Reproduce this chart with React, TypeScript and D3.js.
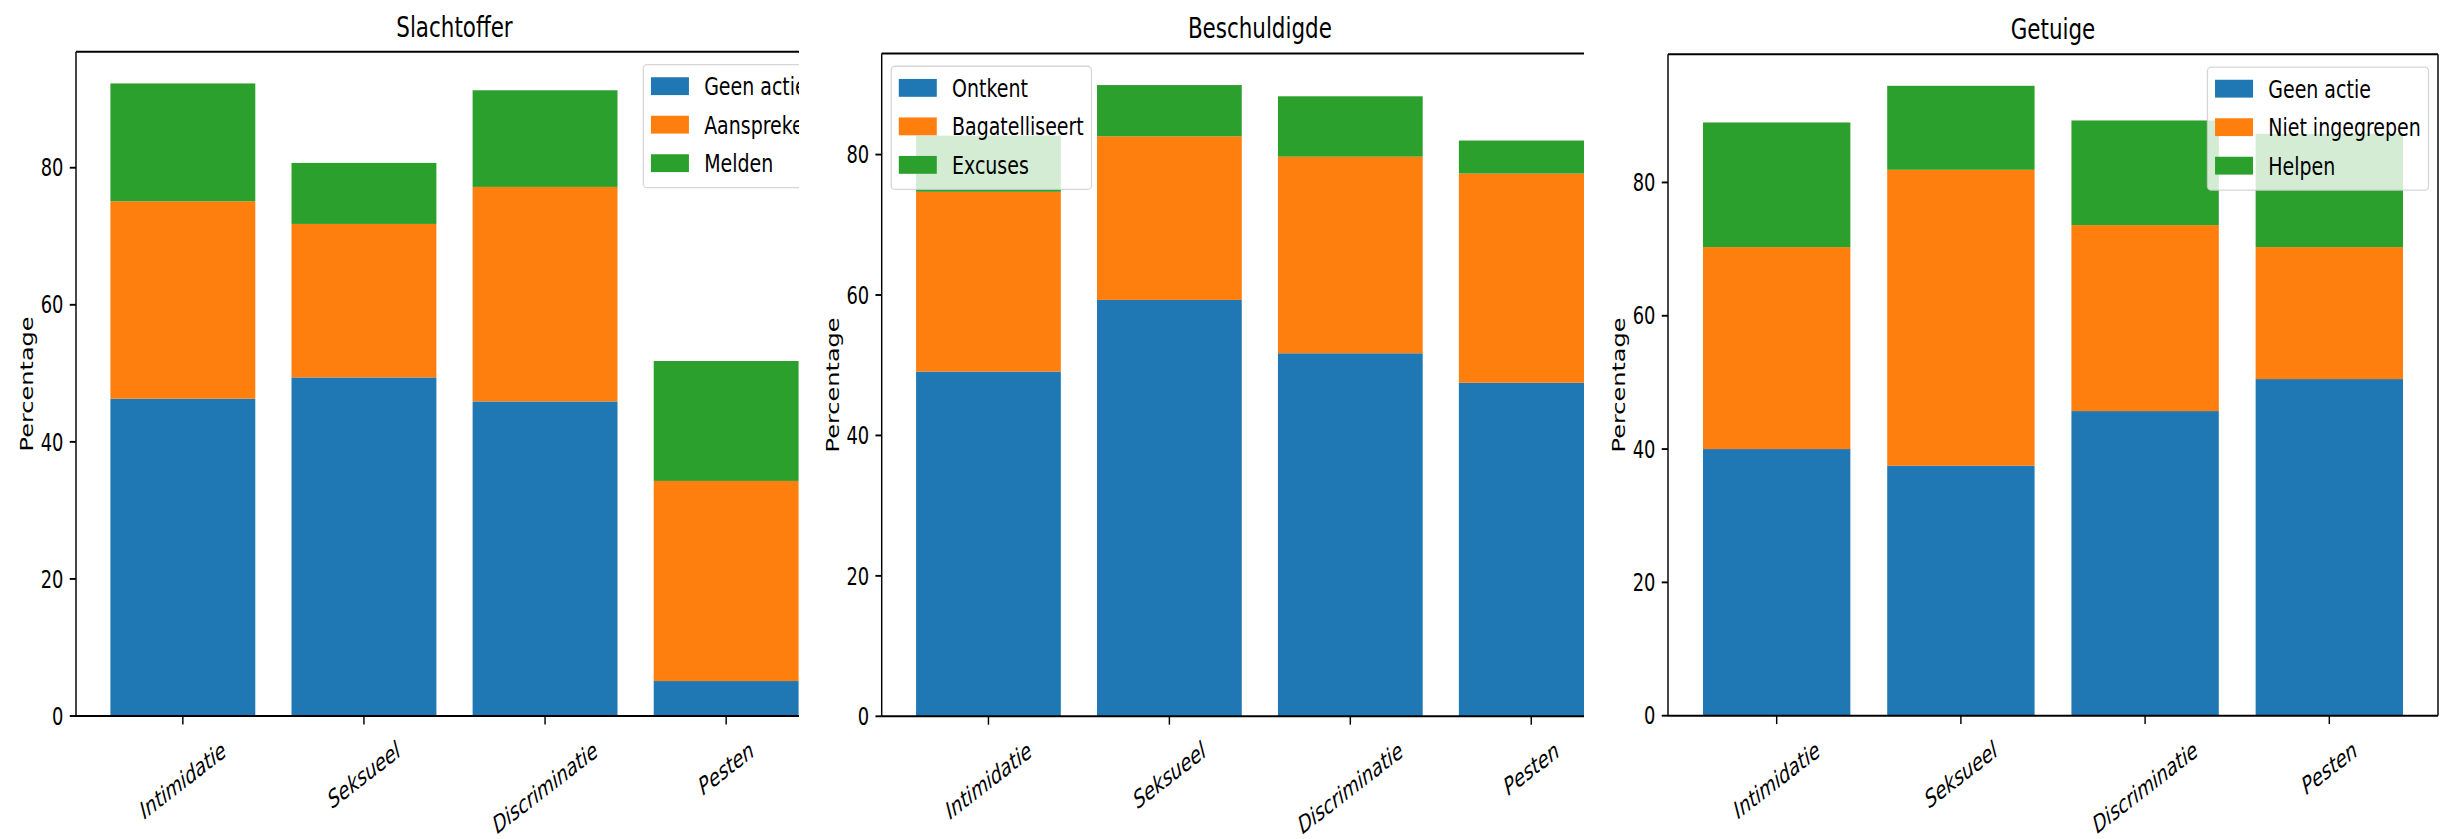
import React, { useEffect, useRef } from "react";
import * as d3 from "d3";

// ---------- data ----------
const categories = ["Intimidatie", "Seksueel", "Discriminatie", "Pesten"];
const seriesColors = ["#1f77b4", "#ff7f0e", "#2ca02c"];
const yTicks = [0, 20, 40, 60, 80];

const slachtofferTitle = "Slachtoffer";
const slachtofferLabels = ["Geen actie", "Aanspreken", "Melden"];
const slachtofferGeenActie = [46.3, 49.4, 45.9, 5.1];
const slachtofferAanspreken = [28.8, 22.4, 31.3, 29.2];
const slachtofferMelden = [17.2, 8.9, 14.1, 17.5];

const beschuldigdeTitle = "Beschuldigde";
const beschuldigdeLabels = ["Ontkent", "Bagatelliseert", "Excuses"];
const beschuldigdeOntkent = [49.1, 59.3, 51.7, 47.5];
const beschuldigdeBagatelliseert = [25.6, 23.3, 28.0, 29.8];
const beschuldigdeExcuses = [8.0, 7.3, 8.6, 4.7];

const getuigeTitle = "Getuige";
const getuigeLabels = ["Geen actie", "Niet ingegrepen", "Helpen"];
const getuigeGeenActie = [40.0, 37.5, 45.7, 50.5];
const getuigeNietIngegrepen = [30.3, 44.4, 27.9, 19.8];
const getuigeHelpen = [18.7, 12.6, 15.7, 17.0];

const yLabel = "Percentage";

// ---------- layout ----------
const W = 2450;
const H = 839;
const S = 0.745; // horizontal squeeze of the picture
const F = 24; // tick / label font
const FL = 25.5; // legend font
const FT = 28.8; // title font
const TICK = 8.4;
const PAD = 8.4;
const ROT = 30;
const FONT = "DejaVu Sans, Verdana, sans-serif";

const panels = [
  {
    title: slachtofferTitle,
    labels: slachtofferLabels,
    series: [slachtofferGeenActie, slachtofferAanspreken, slachtofferMelden],
    left: 76, right: 833, top: 51.8, bottom: 716,
    clipX0: 0, clipX1: 799, legend: "right",
  },
  {
    title: beschuldigdeTitle,
    labels: beschuldigdeLabels,
    series: [beschuldigdeOntkent, beschuldigdeBagatelliseert, beschuldigdeExcuses],
    left: 881.7, right: 1638, top: 53.5, bottom: 716.3,
    clipX0: 800, clipX1: 1584, legend: "left",
  },
  {
    title: getuigeTitle,
    labels: getuigeLabels,
    series: [getuigeGeenActie, getuigeNietIngegrepen, getuigeHelpen],
    left: 1668, right: 2438, top: 54.3, bottom: 715.7,
    clipX0: 1585, clipX1: 2450, legend: "right",
  },
];

export default function App() {
  const ref = useRef<SVGSVGElement | null>(null);

  useEffect(() => {
    document.body.style.margin = "0";
    document.body.style.overflow = "hidden";
    const svg = d3.select(ref.current);
    svg.selectAll("*").remove();
    const defs = svg.append("defs");

    const a = (ROT * Math.PI) / 180;
    const ca = Math.cos(a), sa = Math.sin(a);

    panels.forEach((p, pi) => {
      defs
        .append("clipPath")
        .attr("id", `clip${pi}`)
        .append("rect")
        .attr("x", p.clipX0)
        .attr("y", 0)
        .attr("width", p.clipX1 - p.clipX0)
        .attr("height", H);

      const g = svg.append("g").attr("clip-path", `url(#clip${pi})`);

      const x = d3.scaleLinear().domain([-0.59, 3.59]).range([p.left, p.right]);
      const rows = categories.map((c, i) => {
        const r: any = { cat: c, idx: i };
        p.series.forEach((s, k) => (r["s" + k] = s[i]));
        return r;
      });
      const keys = p.series.map((_, k) => "s" + k);
      const totals = rows.map((r) => d3.sum(keys, (k) => r[k]));
      const yMax = (d3.max(totals) as number) * 1.05;
      const y = d3.scaleLinear().domain([0, yMax]).range([p.bottom, p.top]);
      const stacked = d3.stack().keys(keys)(rows);

      stacked.forEach((layer, k) => {
        g.append("g")
          .selectAll("rect")
          .data(layer)
          .join("rect")
          .attr("x", (d: any) => x(d.data.idx - 0.4))
          .attr("width", (d: any) => x(d.data.idx + 0.4) - x(d.data.idx - 0.4))
          .attr("y", (d: any) => y(d[1]))
          .attr("height", (d: any) => y(d[0]) - y(d[1]))
          .attr("fill", seriesColors[k]);
      });

      const spine = g.append("g").attr("stroke", "#000");
      spine.append("line").attr("x1", p.left).attr("x2", p.right).attr("y1", p.top).attr("y2", p.top).attr("stroke-width", 1.9);
      spine.append("line").attr("x1", p.left).attr("x2", p.right).attr("y1", p.bottom).attr("y2", p.bottom).attr("stroke-width", 1.9);
      spine.append("line").attr("x1", p.left).attr("x2", p.left).attr("y1", p.top).attr("y2", p.bottom).attr("stroke-width", 1.45);
      spine.append("line").attr("x1", p.right).attr("x2", p.right).attr("y1", p.top).attr("y2", p.bottom).attr("stroke-width", 1.45);

      yTicks.forEach((t) => {
        const yy = y(t);
        g.append("line")
          .attr("x1", p.left - TICK * S)
          .attr("x2", p.left)
          .attr("y1", yy)
          .attr("y2", yy)
          .attr("stroke", "#000")
          .attr("stroke-width", 1.9);
        g.append("text")
          .attr("transform", `translate(${p.left - (TICK + PAD) * S},${yy}) scale(${S},1)`)
          .attr("text-anchor", "end")
          .attr("dy", "0.36em")
          .attr("font-family", FONT)
          .attr("font-size", F)
          .attr("fill", "#000")
          .text(String(t));
      });

      categories.forEach((c, i) => {
        const xx = x(i);
        g.append("line")
          .attr("x1", xx)
          .attr("x2", xx)
          .attr("y1", p.bottom)
          .attr("y2", p.bottom + TICK)
          .attr("stroke", "#000")
          .attr("stroke-width", 1.45);
        const t = g
          .append("text")
          .attr("text-anchor", "middle")
          .attr("font-family", FONT)
          .attr("font-style", "italic")
          .attr("font-size", F)
          .attr("fill", "#000")
          .attr("y", 0.346 * F)
          .text(c);
        const L = (t.node() as SVGTextElement).getComputedTextLength();
        const bh = L * sa + 1.164 * F * ca;
        const cy = p.bottom + TICK + PAD + bh / 2 + 3;
        t.attr("transform", `translate(${xx},${cy}) scale(${S},1) rotate(${-ROT})`);
      });

      g.append("text")
        .attr("transform", `translate(${(p.left + p.right) / 2},${p.top - 15.2}) scale(${S},1)`)
        .attr("text-anchor", "middle")
        .attr("font-family", FONT)
        .attr("font-size", FT)
        .attr("fill", "#000")
        .text(p.title);

      g.append("text")
        .attr("transform", `translate(${p.left - 43},${(p.top + p.bottom) / 2}) scale(${S},1) rotate(-90)`)
        .attr("text-anchor", "middle")
        .attr("font-family", FONT)
        .attr("font-size", F)
        .attr("fill", "#000")
        .text(yLabel);

      const lg = g.append("g");
      const frame = lg.append("rect");
      const texts = p.labels.map((lab) =>
        lg
          .append("text")
          .attr("font-family", FONT)
          .attr("font-size", FL)
          .attr("fill", "#000")
          .text(lab)
      );
      const maxLen = d3.max(texts, (t) => (t.node() as SVGTextElement).getComputedTextLength()) as number;
      const boxW = (0.4 * FL + 2 * FL + 0.8 * FL + maxLen + 0.4 * FL) * S;
      const rowH = 25.75;
      const boxH = 0.8 * FL + 3 * rowH + 2 * 0.5 * FL;
      const boxX = p.legend === "right" ? p.right - 0.5 * FL * S - boxW : p.left + 0.5 * FL * S;
      const boxY = p.top + 0.5 * FL;
      frame
        .attr("x", boxX)
        .attr("y", boxY)
        .attr("width", boxW)
        .attr("height", boxH)
        .attr("rx", 4)
        .attr("ry", 4)
        .attr("fill", "#fff")
        .attr("fill-opacity", 0.8)
        .attr("stroke", "#cccccc")
        .attr("stroke-opacity", 0.8)
        .attr("stroke-width", 1.3);
      p.labels.forEach((_, k) => {
        const rowTop = boxY + 0.4 * FL + k * (rowH + 0.5 * FL);
        lg.insert("rect", "text")
          .attr("x", boxX + 0.4 * FL * S)
          .attr("y", rowTop + 2.5)
          .attr("width", 2 * FL * S)
          .attr("height", 0.7 * FL)
          .attr("fill", seriesColors[k]);
        texts[k].attr(
          "transform",
          `translate(${boxX + 3.2 * FL * S},${rowTop + 20.5}) scale(${S},1)`
        );
      });
    });
  }, []);

  return (
    <svg
      ref={ref}
      width={W}
      height={H}
      viewBox={`0 0 ${W} ${H}`}
      style={{ display: "block", background: "#fff" }}
    />
  );
}
